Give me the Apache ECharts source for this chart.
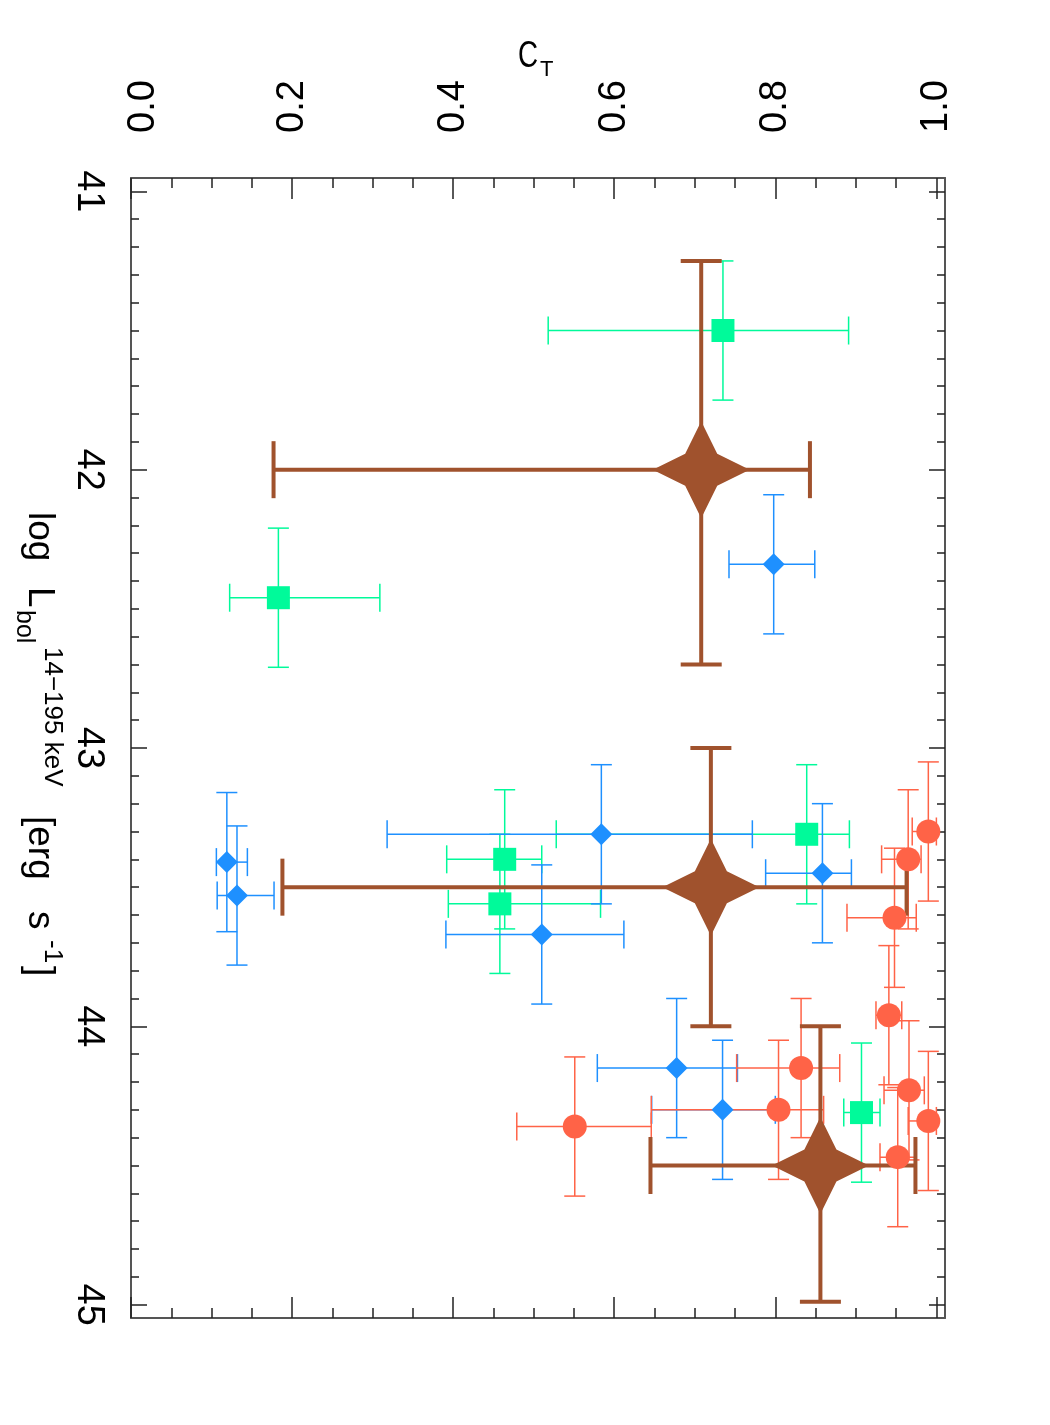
<!DOCTYPE html>
<html lang="en">
<head>
<meta charset="UTF-8">
<title>C_T vs log L_bol</title>
<script src="https://cdn.jsdelivr.net/npm/echarts@6/dist/echarts.min.js"></script>
</head>
<body style="margin:0;background:#fff">
<div id="chart" style="width:1050px;height:1425px"></div>
<script>
// each row: [C_T, log L, C_T low, C_T high, log L low, log L high]
const greenPts = [
  [0.735, 41.50, 0.518, 0.891, 41.25, 41.75],
  [0.183, 42.46, 0.1225, 0.309, 42.21, 42.71],
  [0.464, 43.40, 0.392, 0.510, 43.15, 43.65],
  [0.458, 43.56, 0.394, 0.583, 43.31, 43.81],
  [0.839, 43.31, 0.528, 0.892, 43.06, 43.56],
  [0.907, 44.31, 0.885, 0.930, 44.06, 44.56]
];
const bluePts = [
  [0.798, 42.34, 0.7425, 0.849, 42.09, 42.59],
  [0.119, 43.41, 0.106, 0.1445, 43.16, 43.66],
  [0.1316, 43.53, 0.107, 0.1776, 43.28, 43.78],
  [0.584, 43.31, 0.318, 0.7715, 43.06, 43.56],
  [0.510, 43.67, 0.391, 0.612, 43.42, 43.92],
  [0.8585, 43.45, 0.788, 0.8945, 43.20, 43.70],
  [0.6775, 44.15, 0.579, 0.753, 43.90, 44.40],
  [0.7345, 44.30, 0.6465, 0.800, 44.05, 44.55]
];
const redPts = [
  [0.990, 43.30, 0.970, 1.000, 43.05, 43.55],
  [0.965, 43.40, 0.932, 0.981, 43.15, 43.65],
  [0.948, 43.61, 0.889, 0.975, 43.36, 43.86],
  [0.941, 43.96, 0.925, 0.957, 43.71, 44.21],
  [0.832, 44.15, 0.752, 0.880, 43.90, 44.40],
  [0.966, 44.23, 0.935, 0.985, 43.98, 44.48],
  [0.804, 44.30, 0.646, 0.860, 44.05, 44.55],
  [0.990, 44.34, 0.965, 1.000, 44.09, 44.59],
  [0.952, 44.47, 0.930, 0.975, 44.22, 44.72],
  [0.551, 44.36, 0.479, 0.646, 44.11, 44.61]
];
const binPts = [
  [0.708, 42.0, 0.177, 0.843, 41.25, 42.70],
  [0.720, 43.5, 0.188, 0.963, 43.0, 44.0],
  [0.856, 44.5, 0.645, 0.974, 44.0, 44.99]
];

const xMajor = [0, 0.2, 0.4, 0.6, 0.8, 1.0];
const yMajor = [41, 42, 43, 44, 45];
const xMinor = [];
for (let i = 1; i < 20; i++) if (i % 4) xMinor.push(i * 0.05);
const yMinor = [];
for (let i = 410; i <= 450; i++) if (i % 10) yMinor.push(i / 10);

const FONT = 'Liberation Sans';
const X_MAX = 1.0107;
const Y_MIN = 40.952, Y_MAX = 45.048;

const myChart = echarts.init(document.getElementById('chart'));

function errBars(color, width, capX, capY) {
  return function (params, api) {
    const x = api.value(0), y = api.value(1);
    const l = api.coord([api.value(2), y]);
    const r = api.coord([api.value(3), y]);
    const t = api.coord([x, api.value(4)]);
    const b = api.coord([x, api.value(5)]);
    const st = { stroke: color, lineWidth: width };
    const line = (x1, y1, x2, y2) => ({ type: 'line', shape: { x1, y1, x2, y2 }, style: st });
    return {
      type: 'group',
      children: [
        line(l[0], l[1], r[0], r[1]),
        line(l[0], l[1] - capX / 2, l[0], l[1] + capX / 2),
        line(r[0], r[1] - capX / 2, r[0], r[1] + capX / 2),
        line(t[0], t[1], b[0], b[1]),
        line(t[0] - capY / 2, t[1], t[0] + capY / 2, t[1]),
        line(b[0] - capY / 2, b[1], b[0] + capY / 2, b[1])
      ]
    };
  };
}

function group(data, color, symbol, size, lw, capX, capY) {
  return [
    { type: 'custom', xAxisIndex: 0, yAxisIndex: 0, data: data, clip: false,
      encode: { x: 0, y: 1 }, renderItem: errBars(color, lw, capX, capY), silent: true },
    { type: 'scatter', xAxisIndex: 0, yAxisIndex: 0, data: data.map(d => [d[0], d[1]]),
      symbol: symbol, symbolSize: size, itemStyle: { color: color, opacity: 1 }, silent: true }
  ];
}

const star = 'path://M0,-1 L0.33,-0.33 L1,0 L0.33,0.33 L0,1 L-0.33,0.33 L-1,0 L-0.33,-0.33 Z';

function xAx(grid, pos, ticks, len, labels) {
  return {
    gridIndex: grid, position: pos, type: 'value', min: 0, max: X_MAX,
    axisLine: { show: grid === 0, onZero: false, lineStyle: { color: '#555', width: 2 } },
    axisTick: { show: true, inside: true, length: len, customValues: ticks,
      lineStyle: { color: '#222', width: 1.5 } },
    axisLabel: labels ? {
      customValues: xMajor, rotate: -90, margin: 45, fontSize: 38, fontFamily: FONT, color: '#000',
      formatter: v => v === 0 ? '{s|0.0}' : v.toFixed(1),
      rich: { s: { fontSize: 38, fontFamily: FONT, color: '#000', padding: [26, 0, 0, 0] } }
    } : { show: false },
    splitLine: { show: false }
  };
}
function yAx(grid, pos, ticks, len, labels) {
  return {
    gridIndex: grid, position: pos, type: 'value', min: Y_MIN, max: Y_MAX, inverse: true,
    axisLine: { show: grid === 0, onZero: false, lineStyle: { color: '#555', width: 2 } },
    axisTick: { show: true, inside: true, length: len, customValues: ticks,
      lineStyle: { color: '#222', width: 1.5 } },
    axisLabel: labels ? {
      customValues: yMajor, rotate: -90, margin: 24, fontSize: 38, fontFamily: FONT, color: '#000',
      formatter: v => String(Math.round(v))
    } : { show: false },
    splitLine: { show: false }
  };
}

const mainFs = 37, supFs = 26;
const option = {
  animation: false,
  backgroundColor: '#fff',
  grid: [
    { left: 131, top: 178, width: 814, height: 1140 },
    { left: 131, top: 178, width: 814, height: 1140 }
  ],
  xAxis: [
    xAx(0, 'top', xMajor, 21, true),
    xAx(0, 'bottom', xMajor, 21, false),
    xAx(1, 'top', xMinor, 10, false),
    xAx(1, 'bottom', xMinor, 10, false)
  ],
  yAxis: [
    yAx(0, 'left', yMajor, 16, true),
    yAx(0, 'right', yMajor, 16, false),
    yAx(1, 'left', yMinor, 8, false),
    yAx(1, 'right', yMinor, 8, false)
  ],
  graphic: [
    { type: 'text', x: 518, y: 56.5, scaleX: 0.75, style: { text: 'C', fontSize: 37, fontFamily: FONT, fill: '#000', align: 'left', verticalAlign: 'middle' } },
    { type: 'text', x: 540, y: 70, style: { text: 'T', fontSize: 22, fontFamily: FONT, fill: '#000', align: 'left', verticalAlign: 'middle' } },
    {
      type: 'group', x: 0, y: 0, rotation: -Math.PI / 2,
      children: [
        { type: 'text', x: 512, y: -38.8, style: { text: 'log', fontSize: mainFs, fontFamily: FONT, fill: '#000', align: 'left', verticalAlign: 'middle' } },
        { type: 'text', x: 587, y: -38.8, style: { text: 'L', fontSize: mainFs, fontFamily: FONT, fill: '#000', align: 'left', verticalAlign: 'middle' } },
        { type: 'text', x: 610, y: -23.7, style: { text: 'bol', fontSize: 25, fontFamily: FONT, fill: '#000', align: 'left', verticalAlign: 'middle' } },
        { type: 'text', x: 647, y: -52, style: { text: '14\u2212195 keV', fontSize: supFs, fontFamily: FONT, fill: '#000', align: 'left', verticalAlign: 'middle' } },
        { type: 'text', x: 816, y: -38.8, style: { text: '[erg', fontSize: mainFs, fontFamily: FONT, fill: '#000', align: 'left', verticalAlign: 'middle' } },
        { type: 'text', x: 911, y: -38.8, style: { text: 's', fontSize: mainFs, fontFamily: FONT, fill: '#000', align: 'left', verticalAlign: 'middle' } },
        { type: 'text', x: 940, y: -52, style: { text: '-1', fontSize: supFs, fontFamily: FONT, fill: '#000', align: 'left', verticalAlign: 'middle' } },
        { type: 'text', x: 966, y: -38.8, style: { text: ']', fontSize: mainFs, fontFamily: FONT, fill: '#000', align: 'left', verticalAlign: 'middle' } }
      ]
    }
  ],
  series: [].concat(
    group(greenPts, '#00FA9A', 'rect', 23, 1.5, 28, 21),
    group(bluePts, '#1E90FF', 'diamond', 22, 1.5, 28, 21),
    group(redPts, '#FF6347', 'circle', 24, 1.5, 28, 21),
    group(binPts, '#A0522D', star, 97, 4, 57, 41)
  )
};
myChart.setOption(option);
</script>
</body>
</html>
